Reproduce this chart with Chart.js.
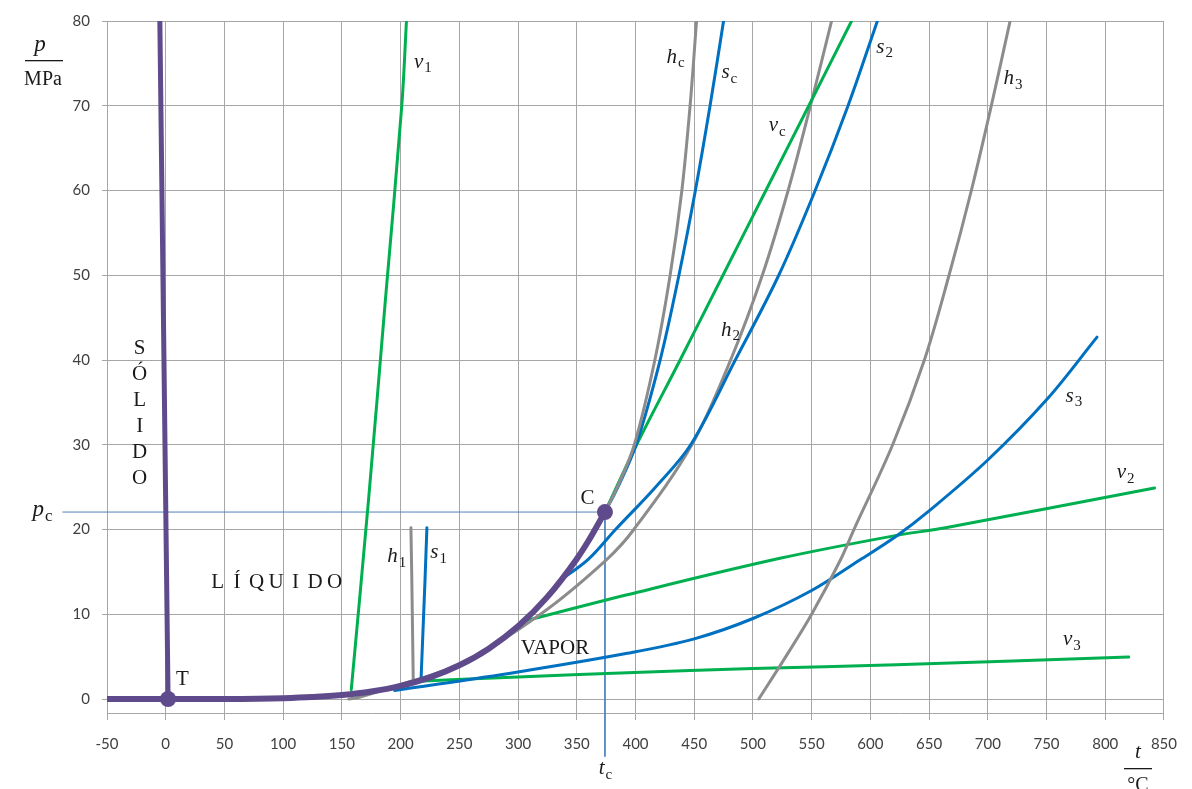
<!DOCTYPE html>
<html><head><meta charset="utf-8">
<script src="https://cdn.jsdelivr.net/npm/chart.js@4/dist/chart.umd.min.js"></script>
<style>html,body{margin:0;padding:0;background:#fff}canvas{display:block}</style>
</head><body><canvas id="c" width="1192" height="789"></canvas>
<script>
// ---- tick labels ----
const xTicks = [-50,0,50,100,150,200,250,300,350,400,450,500,550,600,650,700,750,800,850];
const yTicks = [0,10,20,30,40,50,60,70,80];

// ---- phase boundaries ----
const satT  = [-50, 2, 50, 100, 125, 150, 175, 200, 225, 250, 275, 300, 325, 350, 360, 374];
const satP  = [0, 0, 0.012, 0.101, 0.232, 0.476, 0.892, 1.555, 2.548, 3.976, 5.942, 8.588, 12.05, 16.53, 18.67, 22.06];
const meltT = [2, -5];
const meltP = [0, 80];
const tripleT = [2],   tripleP = [0];
const critT   = [374], critP   = [22.06];

// ---- isolines ----
const v1T = [158, 172.7, 187, 201, 205];
const v1P = [1.1, 23.5, 47, 70, 80];
const h1T = [210.8, 209.5, 208.8];
const h1P = [2.0, 14.6, 20.2];
const s1T = [217.4, 220.7, 222.4];
const s1P = [2.3, 13.7, 20.2];
const hcT = [374, 384.6, 399, 416.5, 429.5, 439.5, 446.5, 452];
const hcP = [22.06, 25, 30, 40, 50, 60, 70, 80];
const scT = [374, 385, 400.5, 421, 437, 451, 463.5, 475];
const scP = [22.06, 25, 30, 40, 50, 60, 70, 80];
const vcT = [374, 401, 438, 474.5, 511, 547.6, 584];
const vcP = [22.06, 30, 40, 50, 60, 70, 80];
const s2T = [335, 360, 383, 417, 447, 485, 522, 553, 581, 606];
const s2P = [13.9, 16.5, 20, 25, 30, 40, 50, 60, 70, 80];
const h2T = [156, 167, 209, 252, 320, 375, 398.6, 448, 481, 508, 530, 549, 567];
const h2P = [0, 0.3, 2.1, 4.2, 10.1, 16.4, 20, 30, 40, 50, 60, 70, 80];
const h3T = [505, 528, 550, 574.5, 586, 619, 646, 667, 686, 703, 719];
const h3P = [0, 5, 10, 16.4, 20, 30, 40, 50, 60, 70, 80];
const s3T = [195, 300, 393, 450, 500, 550, 591, 622, 650, 700, 750, 793];
const s3P = [1.0, 3.2, 5.4, 7.1, 9.5, 12.8, 16.4, 19.2, 22.2, 28.2, 35.3, 42.7];
const v2T = [304, 393, 523, 622, 664, 842];
const v2P = [9.15, 12.3, 16.6, 19.3, 20.2, 24.9];
const v3T = [215, 300, 393, 500, 622, 820];
const v3P = [2.1, 2.6, 3.1, 3.6, 4.04, 4.95];

// ---- critical reference lines ----
const pcLineT = [-88, 374],  pcLineP = [22.06, 22.06];
const tcLineT = [374, 374],  tcLineP = [22.06, -6.8];

// ---- curve labels (data coordinates) ----
const curveLabels = [
  ['v','1',218.5,75.1], ['h','1',196.4,16.8], ['s','1',232,17.2],
  ['h','c',433.8,75.7], ['s','c',479.5,73.9], ['v','c',520.2,67.6],
  ['s','2',611.8,76.9], ['h','2',480.4,43.5], ['h','3',721.1,73.2],
  ['s','3',772.9,35.7], ['v','2',817,26.7], ['v','3',771.2,7.0]
];
const regionLabels = [['VAPOR', 331.4, 6.0], ['T', 14.2, 2.3], ['C', 359.2, 23.7]];
const liquidoLetters = ['L','Í','Q','U','I','D','O'];
const solidoLetters = ['S','Ó','L','I','D','O'];

const PURPLE = '#5f4b8b', GREEN = '#00b050', BLUE = '#0070c0', GRAY = '#8c8c8c', THIN = '#4f81bd';

function pts(ts, ps){ return ts.map((t,i)=>({x:t, y:ps[i]})); }
function line(ts, ps, color, w, smooth){
  return {data: pts(ts,ps), borderColor: color, borderWidth: w, pointRadius: 0, showLine: true,
          fill: false, tension: smooth ? 0.35 : 0, borderCapStyle: 'round', borderJoinStyle: 'round'};
}

const datasets = [
  Object.assign(line(tripleT, tripleP, PURPLE, 0, false), {pointRadius: 8, pointBackgroundColor: PURPLE, pointBorderWidth: 0, showLine:false}),
  Object.assign(line(critT, critP, PURPLE, 0, false), {pointRadius: 8, pointBackgroundColor: PURPLE, pointBorderWidth: 0, showLine:false}),
  Object.assign(line(satT, satP, PURPLE, 6, true), {cubicInterpolationMode: 'monotone'}),
  line(meltT, meltP, PURPLE, 5, false),
  line(v1T, v1P, GREEN, 3, true),
  line(h1T, h1P, GRAY, 3, false),
  line(s1T, s1P, BLUE, 3, false),
  line(hcT, hcP, GRAY, 3, true),
  line(scT, scP, BLUE, 3, true),
  line(vcT, vcP, GREEN, 3, true),
  line(s2T, s2P, BLUE, 3, true),
  line(h2T, h2P, GRAY, 3, true),
  line(h3T, h3P, GRAY, 3, true),
  line(s3T, s3P, BLUE, 3, true),
  line(v2T, v2P, GREEN, 3, true),
  line(v3T, v3P, GREEN, 3, true),
  Object.assign(line(pcLineT, pcLineP, THIN, 1, false), {clip: false, borderCapStyle: 'butt'}),
  Object.assign(line(tcLineT, tcLineP, THIN, 1, false), {clip: false, borderCapStyle: 'butt'})
];

const SERIF = '"Liberation Serif", "DejaVu Serif", serif';

const textPlugin = {
  id: 'texts',
  afterDatasetsDraw(chart){
    const ctx = chart.ctx, xs = chart.scales.x, ys = chart.scales.y;
    ctx.save();
    ctx.fillStyle = '#1a1a1a';
    function sub(main, s, cx, cy, size){
      ctx.font = 'italic ' + size + 'px ' + SERIF;
      const w1 = ctx.measureText(main).width;
      ctx.font = Math.round(size*0.72) + 'px ' + SERIF;
      const w2 = ctx.measureText(s).width;
      const x0 = cx - (w1 + w2)/2;
      ctx.textBaseline = 'alphabetic'; ctx.textAlign = 'left';
      ctx.font = 'italic ' + size + 'px ' + SERIF;
      ctx.fillText(main, x0, cy + size*0.25);
      ctx.font = Math.round(size*0.72) + 'px ' + SERIF;
      ctx.fillText(s, x0 + w1 + 1, cy + size*0.25 + size*0.22);
    }
    curveLabels.forEach(l => sub(l[0], l[1], xs.getPixelForValue(l[2]), ys.getPixelForValue(l[3]), 21));
    ctx.font = '21px ' + SERIF; ctx.textAlign = 'center'; ctx.textBaseline = 'middle';
    regionLabels.forEach(l => ctx.fillText(l[0], xs.getPixelForValue(l[1]), ys.getPixelForValue(l[2])));
    // LÍQUIDO spaced letters
    const lx = xs.getPixelForValue(94), ly = ys.getPixelForValue(13.7);
    liquidoLetters.forEach((c,i) => ctx.fillText(c, lx + (i-3)*19.5, ly));
    // SÓLIDO vertical
    const sx = xs.getPixelForValue(-22.2);
    solidoLetters.forEach((c,i) => ctx.fillText(c, sx, 348 + i*26));
    // axis titles
    ctx.font = 'italic 23px ' + SERIF; ctx.textAlign = 'center';
    ctx.fillText('p', 40, 45);
    ctx.fillRect(25, 60, 38, 1.3);
    ctx.font = '20px ' + SERIF;
    ctx.fillText('MPa', 43, 80);
    // p_c and t_c
    sub('p', 'c', 42, ys.getPixelForValue(22.06) - 2, 23);
    sub('t', 'c', xs.getPixelForValue(374), 769, 21);
    // t / °C
    ctx.font = 'italic 21px ' + SERIF; ctx.textAlign = 'center'; ctx.textBaseline = 'middle';
    ctx.fillText('t', 1138, 752);
    ctx.fillRect(1124, 768, 28, 1.3);
    ctx.font = '20px ' + SERIF;
    ctx.fillText('°C', 1138, 786);
    ctx.restore();
  }
};

new Chart(document.getElementById('c'), {
  type: 'line',
  data: {datasets},
  options: {
    responsive: false, animation: false,
    layout: {padding: {left: 0, right: 23, top: 21, bottom: 0}},
    plugins: {legend: {display: false}, tooltip: {enabled: false}},
    scales: {
      x: {type: 'linear', min: -50, max: 850,
          afterBuildTicks(s){ s.ticks = xTicks.map(v => ({value: v})); },
          afterFit(s){ s.height = 76; },
          ticks: {font: {family: 'Lato', size: 15}, color: '#404040', padding: 15, maxRotation: 0, autoSkip: false},
          grid: {color: '#a6a6a6', lineWidth: 1, tickLength: 7},
          border: {color: '#a6a6a6'}},
      y: {type: 'linear', min: -1.65, max: 80,
          afterBuildTicks(s){ s.ticks = yTicks.map(v => ({value: v})); },
          afterFit(s){ s.width = 107; },
          ticks: {font: {family: 'Lato', size: 15}, color: '#404040', padding: 12, autoSkip: false},
          grid: {color: '#a6a6a6', lineWidth: 1, tickLength: 5},
          border: {color: '#a6a6a6'}}
    }
  },
  plugins: [textPlugin]
});
</script>
</body></html>
